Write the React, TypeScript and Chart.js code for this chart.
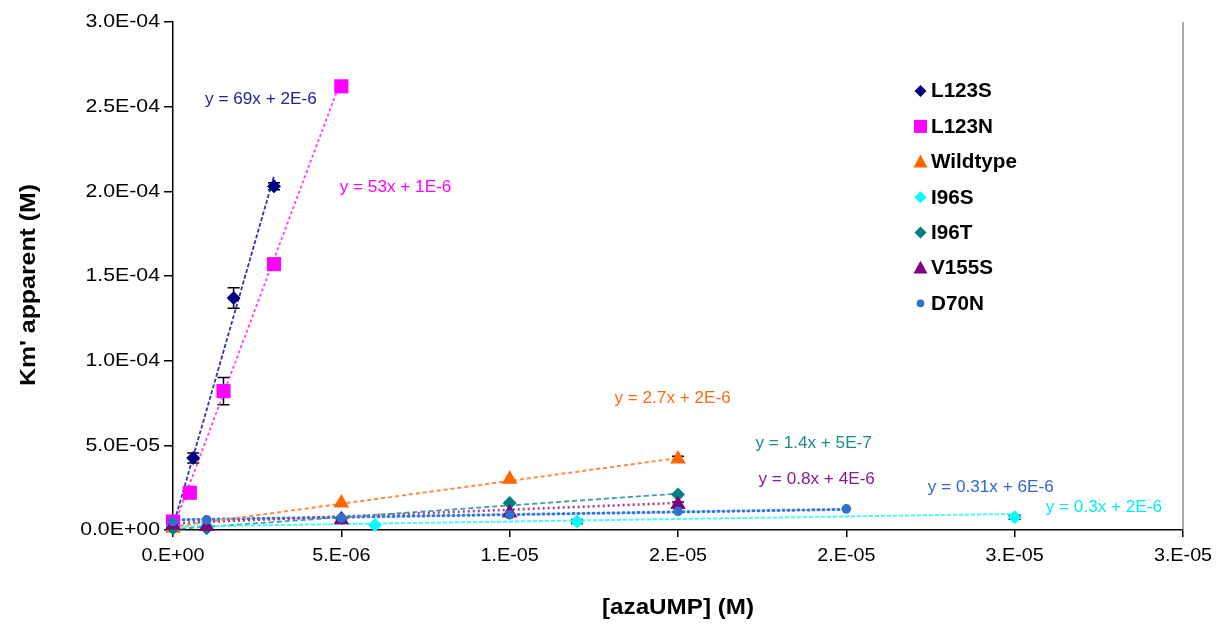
import React, { useEffect, useRef } from 'react';
import { Chart, registerables } from 'chart.js';

Chart.register(...registerables);

const FONT = '"Liberation Sans", Arial, sans-serif';
const CW = 1216;
const CH = 626;

// ---------- data ----------
const seriesNames = ['L123S', 'L123N', 'Wildtype', 'I96S', 'I96T', 'V155S', 'D70N'];

const xL123S = [0, 0.6e-6, 1.8e-6, 3.0e-6];
const yL123S = [3e-6, 4.25e-5, 1.37e-4, 2.03e-4];
const eL123S = [0, 3e-6, 6e-6, 2e-6];

const xL123N = [0, 0.5e-6, 1.5e-6, 3.0e-6, 5.0e-6];
const yL123N = [5e-6, 2.2e-5, 8.2e-5, 1.57e-4, 2.62e-4];
const eL123N = [0, 0, 8e-6, 0, 0];

const xWildtype = [0, 5e-6, 1e-5, 1.5e-5];
const yWildtype = [1e-6, 1.6e-5, 3.0e-5, 4.2e-5];
const eWildtype = [0, 0, 0, 1.5e-6];

const xI96S = [0, 1e-6, 6e-6, 1.2e-5, 2.5e-5];
const yI96S = [2e-6, 2.5e-6, 3e-6, 5e-6, 7.5e-6];
const eI96S = [0, 0, 0, 1.2e-6, 1.2e-6];

const xI96T = [0, 1e-6, 5e-6, 1e-5, 1.5e-5];
const yI96T = [1e-6, 1e-6, 7e-6, 1.6e-5, 2.1e-5];
const eI96T = [0, 0, 0, 0, 0];

const xV155S = [0, 1e-6, 5e-6, 1e-5, 1.5e-5];
const yV155S = [3e-6, 2e-6, 6e-6, 1e-5, 1.5e-5];
const eV155S = [0, 0, 0, 0, 1.5e-6];

const xD70N = [0, 1e-6, 5e-6, 1e-5, 1.5e-5, 2e-5];
const yD70N = [5e-6, 6e-6, 7e-6, 9e-6, 1.1e-5, 1.25e-5];
const eD70N = [0, 0, 0, 0, 0, 0];

// trendline equations as printed on the chart
const trendSlopes = [69, 53, 2.7, 0.3, 1.4, 0.8, 0.31];
const trendIntercepts = [2e-6, 1e-6, 2e-6, 2e-6, 5e-7, 4e-6, 6e-6];
const trendLabels = [
  'y = 69x + 2E-6',
  'y = 53x + 1E-6',
  'y = 2.7x + 2E-6',
  'y = 0.3x + 2E-6',
  'y = 1.4x + 5E-7',
  'y = 0.8x + 4E-6',
  'y = 0.31x + 6E-6',
];

const xTickValues = [0, 5e-6, 1e-5, 1.5e-5, 2e-5, 2.5e-5, 3e-5];
const xTickLabels = ['0.E+00', '5.E-06', '1.E-05', '2.E-05', '2.E-05', '3.E-05', '3.E-05'];
const yTickValues = [0, 5e-5, 1e-4, 1.5e-4, 2e-4, 2.5e-4, 3e-4];
const yTickLabels = ['0.0E+00', '5.0E-05', '1.0E-04', '1.5E-04', '2.0E-04', '2.5E-04', '3.0E-04'];

const xTitle = '[azaUMP] (M)';
const yTitle = "Km' apparent (M)";

const seriesX = [xL123S, xL123N, xWildtype, xI96S, xI96T, xV155S, xD70N];
const seriesY = [yL123S, yL123N, yWildtype, yI96S, yI96T, yV155S, yD70N];
const seriesE = [eL123S, eL123N, eWildtype, eI96S, eI96T, eV155S, eD70N];

// ---------- styles ----------
const styles = [
  { marker: '#000080', line: '#3434a8', label: '#1f1f8f', shape: 'rectRot', r: 7, dash: [4, 2], lw: 1.8, cap: 'butt' },
  { marker: '#FF00FF', line: '#ff3dff', label: '#ff00ff', shape: 'rect', r: 10, dash: [3, 2.5], lw: 1.8, cap: 'butt' },
  { marker: '#FF6600', line: '#ff8a3d', label: '#ff6a10', shape: 'triangle', r: 9, dash: [4, 3], lw: 2, cap: 'butt' },
  { marker: '#00FFFF', line: '#3dffff', label: '#00eeee', shape: 'rectRot', r: 7, dash: [4, 2], lw: 2, cap: 'butt' },
  { marker: '#008080', line: '#3da0a0', label: '#1a8a8a', shape: 'rectRot', r: 7, dash: [5, 3], lw: 1.8, cap: 'butt' },
  { marker: '#800080', line: '#a03da0', label: '#8a1a8a', shape: 'triangle', r: 9, dash: [2, 3], lw: 2.6, cap: 'butt' },
  { marker: '#2f72cc', line: '#2f7ae0', label: '#3366cc', shape: 'circle', r: 4.8, dash: [1, 4], lw: 3, cap: 'round' },
];

// label anchor positions in data units (centre of text)
const labelX = [2.61e-6, 6.61e-6, 1.484e-5, 2.765e-5, 1.903e-5, 1.912e-5, 2.429e-5];
const labelY = [2.545e-4, 2.02e-4, 7.74e-5, 1.36e-5, 5.14e-5, 3.01e-5, 2.54e-5];

function stretchText(ctx: CanvasRenderingContext2D, text: string, x: number, y: number, align: CanvasTextAlign, sx: number) {
  ctx.save();
  ctx.translate(x, y);
  ctx.scale(sx, 1);
  ctx.textAlign = align;
  ctx.textBaseline = 'middle';
  ctx.fillText(text, 0, 0);
  ctx.restore();
}

function drawMarker(ctx: CanvasRenderingContext2D, shape: string, x: number, y: number, size: number, color: string) {
  ctx.save();
  ctx.fillStyle = color;
  ctx.beginPath();
  if (shape === 'rectRot') {
    ctx.moveTo(x, y - size);
    ctx.lineTo(x + size, y);
    ctx.lineTo(x, y + size);
    ctx.lineTo(x - size, y);
    ctx.closePath();
  } else if (shape === 'rect') {
    ctx.rect(x - size, y - size, size * 2, size * 2);
  } else if (shape === 'triangle') {
    ctx.moveTo(x, y - size * 1.05);
    ctx.lineTo(x + size, y + size * 0.8);
    ctx.lineTo(x - size, y + size * 0.8);
    ctx.closePath();
  } else {
    ctx.arc(x, y, size, 0, Math.PI * 2);
  }
  ctx.fill();
  ctx.restore();
}

const legendMarkerSize = [6, 6.5, 7, 6, 6, 7, 3.8];

const overlayPlugin = {
  id: 'overlay',
  beforeDatasetsDraw(chart: any) {
    const ctx = chart.ctx as CanvasRenderingContext2D;
    const xs = chart.scales.x;
    const ys = chart.scales.y;
    ctx.save();
    ctx.strokeStyle = '#000';
    ctx.lineWidth = 1.5;
    seriesE.forEach((errs, i) => {
      errs.forEach((e, j) => {
        if (!e) return;
        const px = xs.getPixelForValue(seriesX[i][j]);
        const top = ys.getPixelForValue(seriesY[i][j] + e);
        const bot = ys.getPixelForValue(seriesY[i][j] - e);
        ctx.beginPath();
        ctx.moveTo(px, top);
        ctx.lineTo(px, bot);
        ctx.moveTo(px - 6, top);
        ctx.lineTo(px + 6, top);
        ctx.moveTo(px - 6, bot);
        ctx.lineTo(px + 6, bot);
        ctx.stroke();
      });
    });
    ctx.restore();
  },
  afterDraw(chart: any) {
    const ctx = chart.ctx as CanvasRenderingContext2D;
    const xs = chart.scales.x;
    const ys = chart.scales.y;
    const area = chart.chartArea;

    // right frame line of plot area
    ctx.save();
    ctx.strokeStyle = '#8c8c8c';
    ctx.lineWidth = 1.5;
    ctx.beginPath();
    ctx.moveTo(area.right, area.top);
    ctx.lineTo(area.right, area.bottom);
    ctx.stroke();
    ctx.restore();

    // tick labels
    ctx.save();
    ctx.fillStyle = '#000';
    ctx.font = `19px ${FONT}`;
    yTickValues.forEach((v, i) => {
      stretchText(ctx, yTickLabels[i], area.left - 13, ys.getPixelForValue(v), 'right', 1.12);
    });
    xTickValues.forEach((v, i) => {
      stretchText(ctx, xTickLabels[i], xs.getPixelForValue(v), area.bottom + 26, 'center', 1.04);
    });
    // axis titles
    ctx.font = `bold 22px ${FONT}`;
    stretchText(ctx, xTitle, area.left + (area.right - area.left) / 2, area.bottom + 78, 'center', 1.1);
    ctx.save();
    ctx.translate(29, area.top + (area.bottom - area.top) / 2 + 9);
    ctx.rotate(-Math.PI / 2);
    stretchText(ctx, yTitle, 0, 0, 'center', 1.13);
    ctx.restore();
    ctx.restore();

    // trendline equations
    ctx.save();
    ctx.font = `16.5px ${FONT}`;
    trendLabels.forEach((t, i) => {
      ctx.fillStyle = styles[i].label;
      stretchText(ctx, t, xs.getPixelForValue(labelX[i]), ys.getPixelForValue(labelY[i]), 'center', 1.04);
    });
    ctx.restore();

    // legend
    ctx.save();
    ctx.font = `bold 19.5px ${FONT}`;
    const lx = 920.5;
    const ly0 = 91;
    const lstep = 35.4;
    seriesNames.forEach((n, i) => {
      const y = ly0 + i * lstep;
      drawMarker(ctx, styles[i].shape, lx, y, legendMarkerSize[i], styles[i].marker);
      ctx.fillStyle = '#000';
      stretchText(ctx, n, lx + 10.5, y + 1, 'left', 1.06);
    });
    ctx.restore();
  },
};

export default function App() {
  const ref = useRef<HTMLCanvasElement | null>(null);

  useEffect(() => {
    if (!ref.current) return;
    const datasets: any[] = [];
    seriesNames.forEach((name, i) => {
      const xs = seriesX[i];
      const xmax = Math.max(...xs);
      const xmin = Math.min(...xs);
      datasets.push({
        label: name + ' trend',
        data: [
          { x: xmin, y: trendSlopes[i] * xmin + trendIntercepts[i] },
          { x: xmax, y: trendSlopes[i] * xmax + trendIntercepts[i] },
        ],
        showLine: true,
        borderColor: styles[i].line,
        borderWidth: styles[i].lw,
        borderDash: styles[i].dash,
        borderCapStyle: styles[i].cap,
        pointRadius: 0,
        fill: false,
        clip: false,
        order: 20,
      });
    });
    seriesNames.forEach((name, i) => {
      datasets.push({
        label: name,
        data: seriesX[i].map((x, j) => ({ x, y: seriesY[i][j] })),
        showLine: false,
        pointStyle: styles[i].shape,
        pointRadius: styles[i].r,
        pointBackgroundColor: styles[i].marker,
        pointBorderColor: styles[i].marker,
        pointBorderWidth: 0,
        clip: false,
        order: 7 - i,
      });
    });

    const chart = new Chart(ref.current, {
      type: 'scatter',
      data: { datasets },
      options: {
        responsive: false,
        animation: false,
        devicePixelRatio: 1,
        layout: { padding: { top: 22, right: 33, left: 0, bottom: 0 } },
        plugins: { legend: { display: false }, tooltip: { enabled: false } },
        scales: {
          x: {
            type: 'linear',
            min: 0,
            max: 3e-5,
            afterFit: (s: any) => { s.height = 96; },
            afterBuildTicks: (s: any) => { s.ticks = xTickValues.map((v) => ({ value: v })); },
            ticks: { display: false },
            grid: { display: true, drawOnChartArea: false, drawTicks: true, tickLength: 7, color: '#000', lineWidth: 1.5 },
            border: { display: true, color: '#000', width: 1.5 },
          },
          y: {
            type: 'linear',
            min: 0,
            max: 3e-4,
            afterFit: (s: any) => { s.width = 173; },
            afterBuildTicks: (s: any) => { s.ticks = yTickValues.map((v) => ({ value: v })); },
            ticks: { display: false },
            grid: { display: true, drawOnChartArea: false, drawTicks: true, tickLength: 9, color: '#000', lineWidth: 1.5 },
            border: { display: true, color: '#000', width: 1.5 },
          },
        },
      } as any,
      plugins: [overlayPlugin],
    });
    return () => chart.destroy();
  }, []);

  return (
    <div style={{ position: 'fixed', left: 0, top: 0, width: CW, height: CH, background: '#fff' }}>
      <canvas ref={ref} width={CW} height={CH} style={{ display: 'block' }} />
    </div>
  );
}
